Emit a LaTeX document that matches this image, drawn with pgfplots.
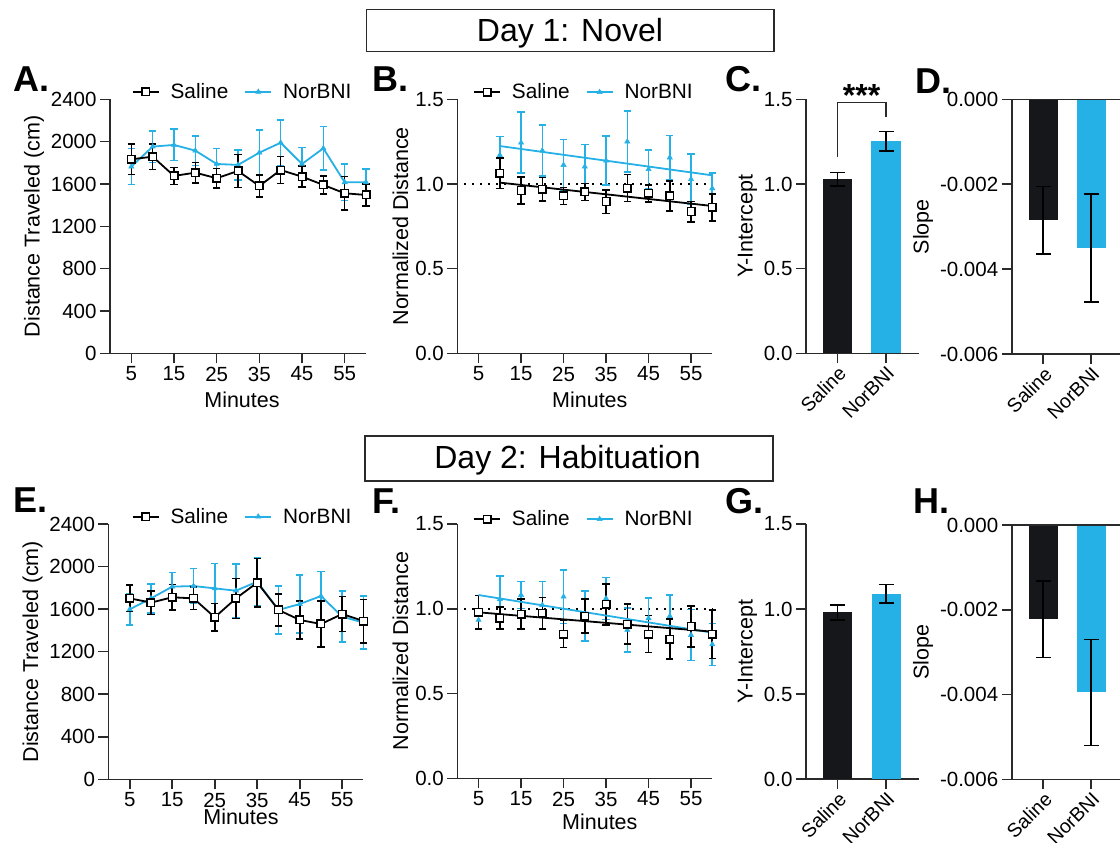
\documentclass[border=0pt]{standalone}
\usepackage{fontspec}
\setmainfont{Liberation Sans}
\usepackage{pgfplots}
\usepackage{pgfplotstable}
\pgfplotsset{compat=1.18}

\definecolor{nbblue}{HTML}{25B0E6}
\definecolor{barblack}{HTML}{16171A}
\definecolor{axcol}{HTML}{2A2A2A}

\newcommand\tickfont{\fontsize{20.5}{22}\selectfont}
\newcommand\cattickfont{\fontsize{19.5}{21}\selectfont}
\newcommand\labfont{\fontsize{21.5}{24}\selectfont}
\newcommand\legfont{\fontsize{20.8}{22}\selectfont}
\newcommand\titfont{\fontsize{32}{36}\selectfont}
\newcommand\letfont{\fontsize{36}{40}\selectfont\bfseries}

% Day 1 distance
\pgfplotstableread{
x y e
5 1833 145
10 1858 120
15 1676 80
20 1707 95
25 1654 94
30 1723 157
35 1581 104
40 1732 126
45 1669 100
50 1591 85
55 1512 157
60 1496 104
}\tAsal
\pgfplotstableread{
x y e
5 1764 170
10 1953 150
15 1969 148
20 1915 139
25 1789 148
30 1780 141
35 1896 214
40 1990 215
45 1789 157
50 1937 205
55 1616 173
60 1616 123
}\tAnor
% Day 1 normalized
\pgfplotstableread{
x y e
10 1.063 0.09
15 0.961 0.08
20 0.969 0.07
25 0.929 0.05
30 0.953 0.05
35 0.896 0.07
40 0.976 0.08
45 0.945 0.05
50 0.929 0.09
55 0.837 0.06
60 0.862 0.08
}\tBsal
\pgfplotstableread{
x y e
10 1.171 0.11
15 1.244 0.18
20 1.197 0.15
25 1.112 0.15
30 1.102 0.13
35 1.138 0.145
40 1.250 0.18
45 1.087 0.115
50 1.156 0.13
55 1.028 0.15
60 0.974 0.09
}\tBnor
% Day 2 distance
\pgfplotstableread{
x y e
5 1701 125
10 1661 110
15 1711 120
20 1701 104
25 1523 131
30 1701 188
35 1849 228
40 1592 150
45 1498 181
50 1460 219
55 1554 163
60 1488 204
}\tEsal
\pgfplotstableread{
x y e
5 1598 145
10 1701 135
15 1811 132
20 1817 166
25 1795 235
30 1773 251
35 1858 229
40 1592 225
45 1648 273
50 1723 229
55 1529 241
60 1473 250
}\tEnor
% Day 2 normalized
\pgfplotstableread{
x y e
5 0.979 0.10
10 0.944 0.065
15 0.969 0.09
20 0.973 0.094
25 0.851 0.08
30 0.957 0.10
35 1.026 0.12
40 0.910 0.118
45 0.851 0.11
50 0.820 0.118
55 0.895 0.12
60 0.849 0.143
}\tFsal
\pgfplotstableread{
x y e
5 0.934 0.05
10 1.056 0.137
15 1.081 0.08
20 1.022 0.14
25 1.071 0.157
30 0.957 0.147
35 1.061 0.124
40 0.875 0.13
45 0.944 0.118
50 0.957 0.124
55 0.845 0.15
60 0.790 0.124
}\tFnor

\pgfplotsset{
  base/.style={scale only axis, axis lines*=left, clip=false,
    tick align=outside, major tick length=10pt,
    scaled y ticks=false, scaled x ticks=false,
    axis line style={line width=1.6pt, draw=axcol},
    tick style={line width=1.6pt, draw=axcol},
    tick label style={font=\tickfont},
    label style={font=\labfont},
    /pgf/number format/assume math mode=true},
  timeaxis/.style={base, xmin=0, xmax=60, xtick={5,15,25,35,45,55},
    xticklabels={5,15,25,35,45,55}, xlabel={Minutes}},
  distaxis/.style={ymin=0, ymax=2400, ytick={0,400,800,1200,1600,2000,2400},
    yticklabels={0,400,800,1200,1600,2000,2400}, ylabel={Distance Traveled (cm)}},
  normaxis/.style={ymin=0, ymax=1.5, ytick={0,0.5,1,1.5},
    yticklabels={0.0,0.5,1.0,1.5}, ylabel={Normalized Distance}},
  baraxis/.style={base, xtick={0,1}, xticklabels={Saline,NorBNI},
    xticklabel style={rotate=45, anchor=north east, inner sep=1pt, font=\cattickfont}},
  intaxis/.style={ymin=0, ymax=1.5, ytick={0,0.5,1,1.5},
    yticklabels={0.0,0.5,1.0,1.5}, ylabel={Y-Intercept}},
  slopeaxis/.style={ymin=-0.006, ymax=0, ytick={-0.006,-0.004,-0.002,0},
    yticklabels={-0.006,-0.004,-0.002,0.000}, ylabel={Slope}},
  salline/.style={black, line width=1.8pt, mark=square*, mark size=3.8pt,
    mark options={fill=white, draw=black, line width=1.4pt}},
  norline/.style={nbblue, line width=1.8pt, mark=triangle*, mark size=3pt,
    mark options={fill=nbblue, draw=nbblue, line width=0.5pt}},
  salerr/.style={error bars/.cd, y dir=both, y explicit,
    error bar style={line width=1.6pt, black},
    error mark options={rotate=90, mark size=3.7pt, line width=1.6pt, black}},
  norerr/.style={error bars/.cd, y dir=both, y explicit,
    error bar style={line width=1.6pt, nbblue},
    error mark options={rotate=90, mark size=3.7pt, line width=1.6pt, nbblue}},
  barerr/.style={error bars/.cd, y dir=both, y explicit,
    error bar style={line width=1.6pt, black},
    error mark options={rotate=90, mark size=7.5pt, line width=1.6pt, black}},
  legsty/.style={legend style={draw=none, fill=none, inner sep=0pt, outer sep=0pt,
    at={#1}, anchor=west, legend columns=2, font=\legfont,
    /tikz/every odd column/.append style={column sep=9pt},
    /tikz/every even column/.append style={column sep=14pt}},
    legend image code/.code={\draw[mark repeat=2, mark phase=2, ##1]
      plot coordinates {(0pt,0pt) (13pt,0pt) (26pt,0pt)};}},
}

\begin{document}
\begin{tikzpicture}
\useasboundingbox (0pt,0pt) rectangle (1120pt,-843pt);

% section titles
\draw[line width=1.4pt, axcol] (366.7pt,-9.3pt) rectangle (774pt,-51.7pt);
\node[anchor=base, inner sep=0pt, font=\titfont] at (570pt,-41.7pt) {Day 1: Novel};
\draw[line width=1.4pt, axcol] (365pt,-436pt) rectangle (773pt,-481pt);
\node[anchor=base, inner sep=0pt, font=\titfont] at (567.5pt,-468.4pt) {Day 2: Habituation};

% panel letters
\node[anchor=base west, inner sep=0pt, font=\letfont] at (13pt,-92pt) {A.};
\node[anchor=base west, inner sep=0pt, font=\letfont] at (372pt,-92pt) {B.};
\node[anchor=base west, inner sep=0pt, font=\letfont] at (725pt,-92pt) {C.};
\node[anchor=base west, inner sep=0pt, font=\letfont] at (915pt,-93pt) {D.};
\node[anchor=base west, inner sep=0pt, font=\letfont] at (13pt,-512pt) {E.};
\node[anchor=base west, inner sep=0pt, font=\letfont] at (372pt,-513pt) {F.};
\node[anchor=base west, inner sep=0pt, font=\letfont] at (725pt,-513pt) {G.};
\node[anchor=base west, inner sep=0pt, font=\letfont] at (913pt,-513pt) {H.};

% A
\begin{axis}[timeaxis, distaxis, at={(110pt,-353.3pt)}, anchor=south west,
  width=256pt, height=254pt,
  xlabel style={at={(axis description cs:0.5,0)}, anchor=north, inner sep=0pt, yshift=-38.5pt, xshift=4pt},
  legsty={(axis description cs:0.085,1.029)}]
\addlegendimage{salline}\addlegendentry{Saline}
\addlegendimage{norline}\addlegendentry{NorBNI}
\addplot[norline, norerr] table[x=x, y=y, y error=e] {\tAnor};
\addplot[salline, salerr] table[x=x, y=y, y error=e] {\tAsal};
\end{axis}

% B
\begin{axis}[timeaxis, normaxis, at={(457.3pt,-353.3pt)}, anchor=south west,
  width=255pt, height=254pt,
  xlabel style={at={(axis description cs:0.5,0)}, anchor=north, inner sep=0pt, yshift=-38.5pt, xshift=5pt},
  legsty={(axis description cs:0.062,1.028)}]
\addlegendimage{salline}\addlegendentry{Saline}
\addlegendimage{norline}\addlegendentry{NorBNI}
\addplot[black, line width=2pt, dash pattern=on 2pt off 6pt] coordinates {(1.6,1) (60,1)};
\addplot[only marks, norline, norerr] table[x=x, y=y, y error=e] {\tBnor};
\addplot[only marks, salline, salerr] table[x=x, y=y, y error=e] {\tBsal};
\addplot[nbblue, line width=1.8pt] coordinates {(10,1.224) (60,1.051)};
\addplot[black, line width=1.8pt] coordinates {(10,1.008) (60,0.870)};
\end{axis}

% C
\begin{axis}[baraxis, intaxis, at={(806pt,-353.3pt)}, anchor=south west,
  width=113.3pt, height=254pt, xmin=-0.643, xmax=1.684]
\addplot[ybar, bar width=29.3pt, bar shift=0pt, fill=barblack, draw=none, barerr]
  coordinates {(0,1.028) +- (0,0.04)};
\addplot[ybar, bar width=29.3pt, bar shift=0pt, fill=nbblue, draw=none, barerr]
  coordinates {(1,1.252) +- (0,0.057)};
\draw[line width=1.5pt, axcol] (axis cs:0,1.157) -- (axis cs:0,1.48) -- (axis cs:1,1.48) -- (axis cs:1,1.398);
\node[anchor=base, inner sep=0pt, font=\titfont\bfseries] at (axis cs:0.5,1.46) {***};
\end{axis}

% D
\begin{axis}[baraxis, slopeaxis, at={(1011.7pt,-354pt)}, anchor=south west,
  width=108.3pt, height=254.7pt, xmin=-0.656, xmax=1.6]
\addplot[ybar, bar width=29.3pt, bar shift=0pt, fill=barblack, draw=none, barerr]
  coordinates {(0,-0.00285) +- (0,0.0008)};
\addplot[ybar, bar width=29.3pt, bar shift=0pt, fill=nbblue, draw=none, barerr]
  coordinates {(1,-0.0035) +- (0,0.00127)};
\draw[line width=1.6pt, axcol] (axis cs:-0.656,0) -- (axis cs:1.6,0);
\end{axis}

% E
\begin{axis}[timeaxis, distaxis, at={(108.5pt,-779.3pt)}, anchor=south west,
  width=255pt, height=255.3pt,
  xlabel style={at={(axis description cs:0.5,0)}, anchor=north, inner sep=0pt, yshift=-29pt, xshift=5pt},
  legsty={(axis description cs:0.091,1.029)}]
\addlegendimage{salline}\addlegendentry{Saline}
\addlegendimage{norline}\addlegendentry{NorBNI}
\addplot[norline, norerr] table[x=x, y=y, y error=e] {\tEnor};
\addplot[salline, salerr] table[x=x, y=y, y error=e] {\tEsal};
\end{axis}

% F
\begin{axis}[timeaxis, normaxis, at={(457.3pt,-778.3pt)}, anchor=south west,
  width=255pt, height=254.3pt,
  xlabel style={at={(axis description cs:0.5,0)}, anchor=north, inner sep=0pt, yshift=-35pt, xshift=15pt},
  legsty={(axis description cs:0.062,1.019)}]
\addlegendimage{salline}\addlegendentry{Saline}
\addlegendimage{norline}\addlegendentry{NorBNI}
\addplot[black, line width=2pt, dash pattern=on 2pt off 6pt] coordinates {(1.6,1) (60,1)};
\addplot[only marks, norline, norerr] table[x=x, y=y, y error=e] {\tFnor};
\addplot[only marks, salline, salerr] table[x=x, y=y, y error=e] {\tFsal};
\addplot[nbblue, line width=1.8pt] coordinates {(5,1.081) (60,0.859)};
\addplot[black, line width=1.8pt] coordinates {(5,0.979) (60,0.865)};
\end{axis}

% G
\begin{axis}[baraxis, intaxis, at={(806pt,-779pt)}, anchor=south west,
  width=113.3pt, height=255pt, xmin=-0.65, xmax=1.68]
\addplot[ybar, bar width=29.3pt, bar shift=0pt, fill=barblack, draw=none, barerr]
  coordinates {(0,0.980) +- (0,0.044)};
\addplot[ybar, bar width=29.3pt, bar shift=0pt, fill=nbblue, draw=none, barerr]
  coordinates {(1,1.090) +- (0,0.053)};
\end{axis}

% H
\begin{axis}[baraxis, slopeaxis, at={(1011.7pt,-779.3pt)}, anchor=south west,
  width=108.3pt, height=254.3pt, xmin=-0.656, xmax=1.6]
\addplot[ybar, bar width=29.3pt, bar shift=0pt, fill=barblack, draw=none, barerr]
  coordinates {(0,-0.002225) +- (0,0.0009)};
\addplot[ybar, bar width=29.3pt, bar shift=0pt, fill=nbblue, draw=none, barerr]
  coordinates {(1,-0.003948) +- (0,0.00125)};
\draw[line width=1.6pt, axcol] (axis cs:-0.656,0) -- (axis cs:1.6,0);
\end{axis}
\end{tikzpicture}
\end{document}
